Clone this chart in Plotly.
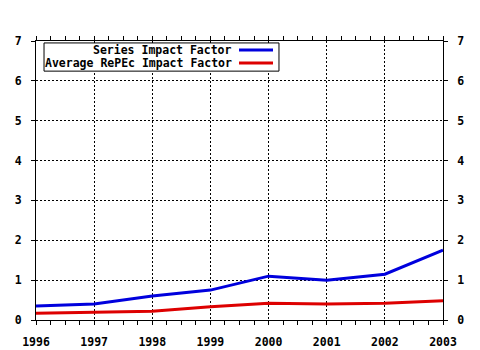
import plotly.graph_objects as go

years = [1996, 1997, 1998, 1999, 2000, 2001, 2002, 2003]
series_if = [0.35, 0.40, 0.60, 0.75, 1.10, 1.00, 1.15, 1.75]
repec_if = [0.17, 0.20, 0.22, 0.33, 0.42, 0.40, 0.42, 0.48]
names = ["Series Impact Factor", "Average RePEc Impact Factor"]
colors = ["#0000dd", "#dd0000"]
y_ticks = [0, 1, 2, 3, 4, 5, 6, 7]

FONT = dict(family="DejaVu Sans Mono", size=11.5, color="black", weight=700)

fig = go.Figure()
for vals, name, col in zip([series_if, repec_if], names, colors):
    fig.add_trace(go.Scatter(x=years, y=vals, mode="lines", name=name,
                             line=dict(color=col, width=3), showlegend=False))
# invisible trace to carry the right-hand value axis
fig.add_trace(go.Scatter(x=years, y=series_if, yaxis="y2", mode="lines",
                         line=dict(width=0, color="rgba(0,0,0,0)"),
                         hoverinfo="skip", showlegend=False))

axis_common = dict(showline=True, linecolor="black", linewidth=1,
                   ticks="outside", ticklen=4, tickcolor="black",
                   tickfont=FONT, zeroline=False, automargin=False,
                   ticklabelstandoff=7)
grid = dict(showgrid=True, gridcolor="black", griddash="2px,2px", gridwidth=1)

fig.update_layout(
    width=480, height=350,
    margin=dict(l=36, r=37, t=41, b=30),
    paper_bgcolor="white", plot_bgcolor="white",
    xaxis=dict(range=[years[0], years[-1]], tickvals=years, mirror="allticks",
               minor=dict(ticks="outside", ticklen=2, tickcolor="black", dtick=0.25,
                          showgrid=False),
               **grid, **axis_common),
    yaxis=dict(range=[0, 7], tickvals=y_ticks, mirror=True, **grid, **axis_common),
    yaxis2=dict(range=[0, 7], tickvals=y_ticks, overlaying="y", side="right",
                showgrid=False, **axis_common),
)

# legend box: labels right-aligned, line samples to their right
fig.add_shape(type="rect", xref="paper", yref="paper", x0=0.0197, x1=0.597,
              y0=0.892, y1=0.993, line=dict(color="black", width=1),
              fillcolor="white", layer="above")
for i, (name, col) in enumerate(zip(names, colors)):
    yy = 0.968 - i * 0.047
    fig.add_annotation(xref="paper", yref="paper", x=0.486, y=yy, text=name,
                       showarrow=False, xanchor="right", yanchor="middle", font=FONT)
    fig.add_shape(type="line", xref="paper", yref="paper", x0=0.4988, x1=0.5823,
                  y0=yy, y1=yy, line=dict(color=col, width=3), layer="above")

fig.write_html("out.html")
